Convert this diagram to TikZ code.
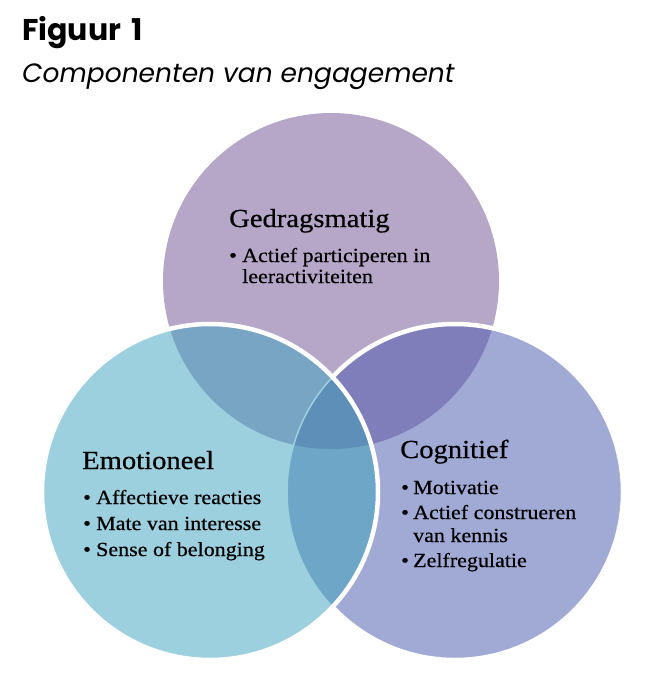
\documentclass[tikz,border=0pt]{standalone}
\usepackage{fontspec}
\setmainfont{Liberation Serif}[FakeStretch=1.1,FakeBold=0.6]
\newfontfamily\titlefont{Poppins}
\definecolor{topc}{HTML}{B6A7C9}
\definecolor{leftc}{HTML}{9DD0DE}
\definecolor{rightc}{HTML}{A1AAD5}
\definecolor{tlc}{HTML}{78A5C3}
\definecolor{trc}{HTML}{807EBA}
\definecolor{lrc}{HTML}{6EA6C7}
\definecolor{midc}{HTML}{5E8FB8}
\tikzset{
  txt/.style={inner sep=0pt, anchor=base west, text=black},
  headtxt/.style={txt, font=\fontsize{26}{30}\selectfont},
  itemtxt/.style={txt, font=\fontsize{20}{23}\selectfont},
  rim/.style={draw=white, line width=4.5pt},
}
\begin{document}
\begin{tikzpicture}[x=1pt,y=-1pt]
\useasboundingbox (0,0) rectangle (650,690);
\coordinate (T) at (331,281);
\coordinate (L) at (210,492);
\coordinate (R) at (455,492);
% top circle
\fill[topc] (T) circle[radius=168];
% right circle
\fill[rightc] (R) circle[radius=168];
\begin{scope}
  \clip (T) circle[radius=168];
  \fill[trc] (R) circle[radius=168];
\end{scope}
\draw[rim] (R) circle[radius=168];
% left circle
\fill[leftc] (L) circle[radius=168];
\begin{scope}
  \clip (T) circle[radius=168];
  \fill[tlc] (L) circle[radius=168];
\end{scope}
\begin{scope}
  \clip (R) circle[radius=168];
  \fill[lrc] (L) circle[radius=168];
\end{scope}
\begin{scope}
  \clip (T) circle[radius=168];
  \clip (R) circle[radius=168];
  \fill[midc] (L) circle[radius=168];
\end{scope}
\begin{scope}
  \clip (L) circle[radius=168];
  \draw[leftc, line width=1.5pt] (R) circle[radius=168];
\end{scope}
\draw[rim] (L) circle[radius=168];
% titles
\node[txt, font=\titlefont\bfseries\fontsize{30}{36}\selectfont] (title) at (22,41) {Figuur\hspace{0.12em} 1};
\node[txt, font=\titlefont\itshape\fontsize{26.5}{32}\selectfont] (subtitle) at (22,83) {Componenten van engagement};
% top circle text
\node[headtxt] (ghead) at (229,227) {Gedragsmatig};
\node[itemtxt] (gb1) at (229,262) {•};
\node[itemtxt] (g1) at (242,262) {Actief participeren in};
\node[itemtxt] (g1b) at (242,283) {leeractiviteiten};
% left circle text
\node[headtxt] (ehead) at (82,469) {Emotioneel};
\node[itemtxt] (eb1) at (83,504) {•};
\node[itemtxt] (e1) at (96,504) {Affectieve reacties};
\node[itemtxt] (eb2) at (83,530) {•};
\node[itemtxt] (e2) at (96,530) {Mate van interesse};
\node[itemtxt] (eb3) at (83,556) {•};
\node[itemtxt] (e3) at (96,556) {Sense of belonging};
% right circle text
\node[headtxt] (chead) at (400,458) {Cognitief};
\node[itemtxt] (cb1) at (401,494) {•};
\node[itemtxt] (c1) at (413,494) {Motivatie};
\node[itemtxt] (cb2) at (401,519) {•};
\node[itemtxt] (c2) at (413,519) {Actief construeren};
\node[itemtxt] (c2b) at (413,542) {van kennis};
\node[itemtxt] (cb3) at (401,567) {•};
\node[itemtxt] (c3) at (413,567) {Zelfregulatie};
\end{tikzpicture}
\end{document}
